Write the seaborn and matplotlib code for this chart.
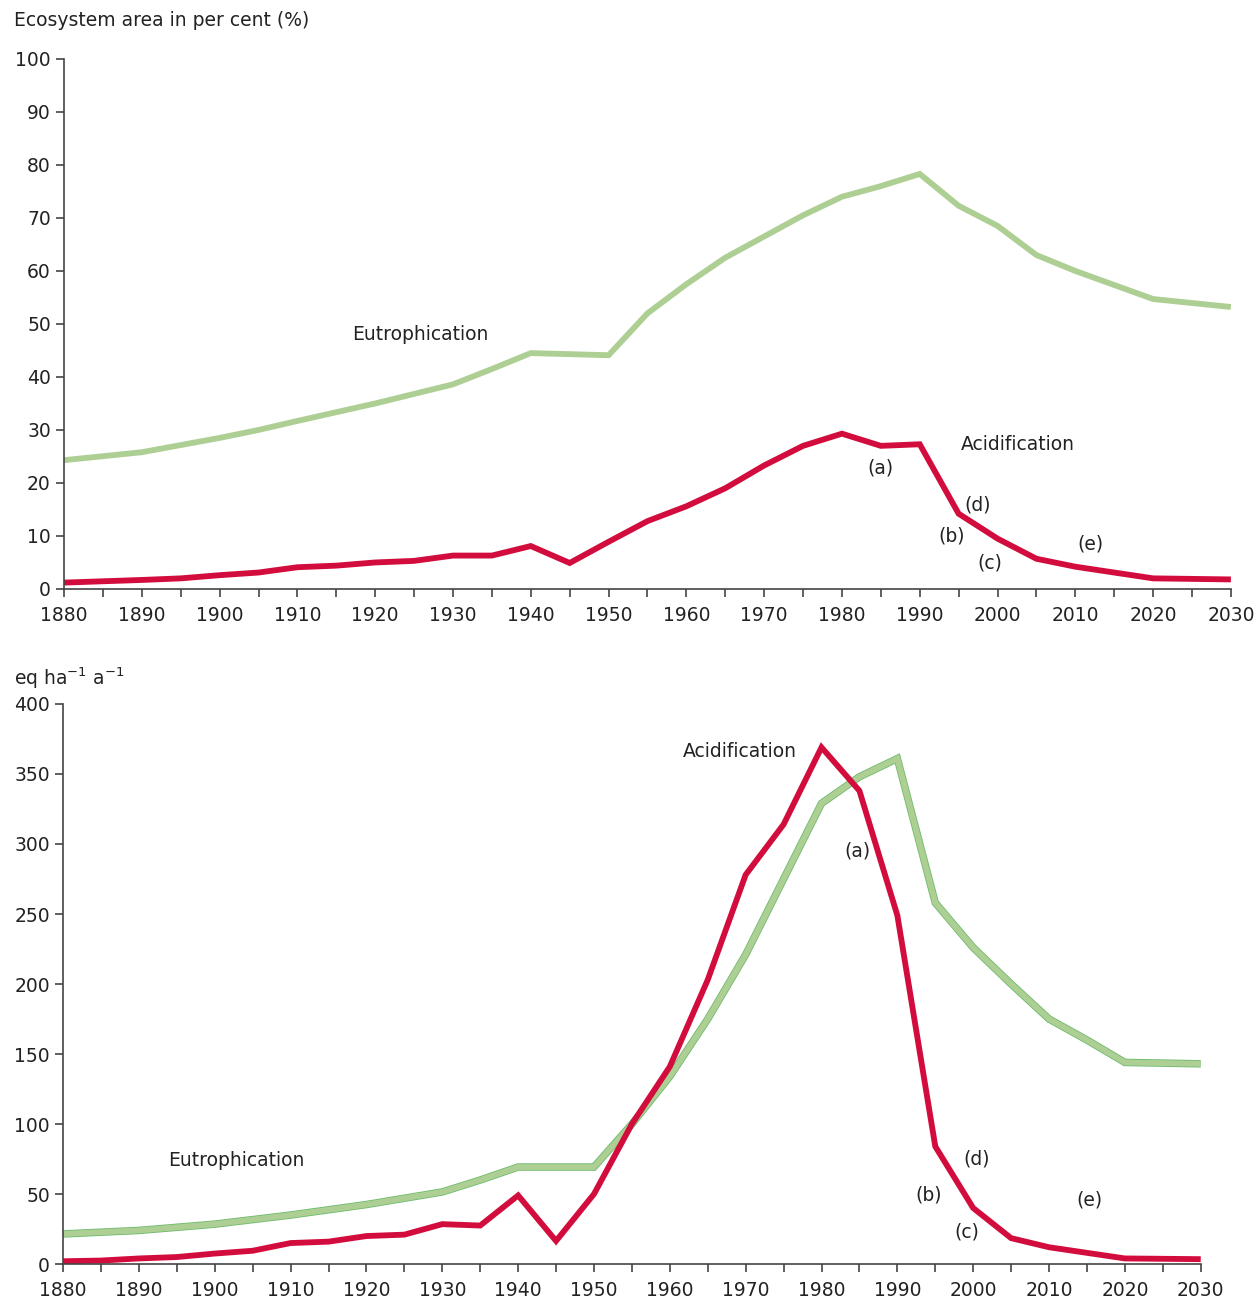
import matplotlib
matplotlib.use("Agg")
import matplotlib.pyplot as plt
import matplotlib.patheffects as pe
from matplotlib.ticker import MultipleLocator
import seaborn as sns
import pandas as pd

# ---- Data: top panel (ecosystem area, %) ----
top_eu_years = [1880, 1890, 1900, 1905, 1910, 1920, 1930, 1935, 1940, 1950, 1955, 1960, 1965,
                1970, 1975, 1980, 1985, 1990, 1995, 2000, 2005, 2010, 2020, 2030]
top_eu_vals = [24.3, 25.8, 28.5, 30.0, 31.7, 35.0, 38.6, 41.5, 44.5, 44.1, 52.0, 57.5, 62.5,
               66.5, 70.5, 74.0, 76.0, 78.3, 72.3, 68.5, 63.0, 60.0, 54.7, 53.2]
top_ac_years = [1880, 1890, 1895, 1900, 1905, 1910, 1915, 1920, 1925, 1930, 1935, 1940, 1945,
                1950, 1955, 1960, 1965, 1970, 1975, 1980, 1985, 1990, 1995, 2000, 2005, 2010,
                2015, 2020, 2030]
top_ac_vals = [1.2, 1.7, 2.0, 2.6, 3.1, 4.1, 4.4, 5.0, 5.3, 6.3, 6.3, 8.1, 4.9,
               8.9, 12.8, 15.6, 19.0, 23.3, 27.0, 29.3, 27.0, 27.3, 14.2, 9.5, 5.7, 4.2,
               3.1, 2.0, 1.8]

# ---- Data: bottom panel (exceedance, eq ha-1 a-1) ----
bot_eu_years = [1880, 1890, 1900, 1910, 1920, 1930, 1935, 1940, 1950, 1955, 1960, 1965, 1970,
                1975, 1980, 1985, 1990, 1995, 2000, 2005, 2010, 2015, 2020, 2030]
bot_eu_vals = [21.5, 24.0, 28.5, 35.0, 42.5, 51.5, 60.0, 69.3, 69.3, 100.0, 134.0, 175.0, 221.0,
               275.0, 329.0, 348.0, 361.0, 258.0, 226.0, 200.0, 175.0, 160.0, 144.0, 143.0]
bot_ac_years = [1880, 1885, 1890, 1895, 1900, 1905, 1910, 1915, 1920, 1925, 1930, 1935, 1940,
                1945, 1950, 1955, 1960, 1965, 1970, 1975, 1980, 1985, 1990, 1995, 2000, 2005,
                2010, 2015, 2020, 2030]
bot_ac_vals = [2.0, 2.5, 4.0, 5.0, 7.5, 9.5, 15.0, 16.0, 20.0, 21.0, 28.5, 27.5, 49.0,
               16.5, 50.0, 100.0, 141.0, 203.0, 278.0, 314.0, 369.0, 338.0, 249.0, 84.0, 40.0, 18.5,
               12.0, 8.0, 4.0, 3.5]

annot_labels = ["(a)", "(b)", "(c)", "(d)", "(e)"]
top_annot_x = [1984.9, 1994.1, 1999.0, 1997.4, 2011.9]
top_annot_y = [22.8, 10.0, 4.9, 15.8, 8.5]
bot_annot_x = [1984.7, 1994.1, 1999.2, 2000.4, 2015.3]
bot_annot_y = [295, 49, 23, 75, 46]

GREEN = "#aecf93"
GREEN_EDGE = "#6dbb6d"
RED = "#d20d3d"
TXT = "#222222"

sns.set_style("ticks")
plt.rcParams["font.family"] = ["DejaVu Sans"]

fig = plt.figure(figsize=(12.56, 13.01), dpi=100)
ax1 = fig.add_axes([0.051, 0.5473, 0.929, 0.4074])
ax2 = fig.add_axes([0.0502, 0.0284, 0.9058, 0.4305])

def df_of(years, vals, name):
    return pd.DataFrame({"year": years, "value": vals, "series": name})

top_df = pd.concat([df_of(top_eu_years, top_eu_vals, "Eutrophication"),
                    df_of(top_ac_years, top_ac_vals, "Acidification")])
bot_df = pd.concat([df_of(bot_eu_years, bot_eu_vals, "Eutrophication"),
                    df_of(bot_ac_years, bot_ac_vals, "Acidification")])

pal = {"Eutrophication": GREEN, "Acidification": RED}
for ax, df in [(ax1, top_df), (ax2, bot_df)]:
    sns.lineplot(data=df, x="year", y="value", hue="series", palette=pal, ax=ax,
                 linewidth=4.2, legend=False, estimator=None, sort=False)
    for line in ax.get_lines():
        line.set_solid_joinstyle("miter")
        line.set_solid_capstyle("butt")

# green edge effect in bottom panel
ax2.get_lines()[0].set_path_effects([pe.Stroke(linewidth=5.4, foreground=GREEN_EDGE),
                                      pe.Normal()])

for ax in (ax1, ax2):
    ax.set_xlim(1880, 2030)
    ax.set_xticks(range(1880, 2031, 10))
    ax.xaxis.set_minor_locator(MultipleLocator(5))
    ax.tick_params(axis="both", which="both", direction="out", length=6, width=1.2,
                   color="#444444", labelsize=13.5, labelcolor=TXT)
    ax.tick_params(axis="x", pad=6)
    ax.set_xlabel("")
    ax.set_ylabel("")
    for s in ("top", "right"):
        ax.spines[s].set_visible(False)
    for s in ("left", "bottom"):
        ax.spines[s].set_color("#444444")
        ax.spines[s].set_linewidth(1.2)

ax1.set_ylim(0, 100)
ax1.set_yticks(range(0, 101, 10))
ax2.set_ylim(0, 400)
ax2.set_yticks(range(0, 401, 50))

fs = 13.5
ax1.text(1925.8, 48.1, "Eutrophication", fontsize=fs, color=TXT, ha="center", va="center")
ax1.text(2002.6, 27.2, "Acidification", fontsize=fs, color=TXT, ha="center", va="center")
for lab, x, y in zip(annot_labels, top_annot_x, top_annot_y):
    ax1.text(x, y, lab, fontsize=fs, color=TXT, ha="center", va="center")

ax2.text(1902.9, 74.3, "Eutrophication", fontsize=fs, color=TXT, ha="center", va="center")
ax2.text(1969.2, 365.7, "Acidification", fontsize=fs, color=TXT, ha="center", va="center")
for lab, x, y in zip(annot_labels, bot_annot_x, bot_annot_y):
    ax2.text(x, y, lab, fontsize=fs, color=TXT, ha="center", va="center")

fig.text(14 / 1256, 1 - 21 / 1301, "Ecosystem area in per cent (%)", fontsize=fs,
         color=TXT, ha="left", va="center")
fig.text(14 / 1256, 1 - 678 / 1301, r"eq ha$^{\mathregular{-1}}$ a$^{\mathregular{-1}}$",
         fontsize=fs, color=TXT, ha="left", va="center")

fig.savefig("out.png", dpi=100)
